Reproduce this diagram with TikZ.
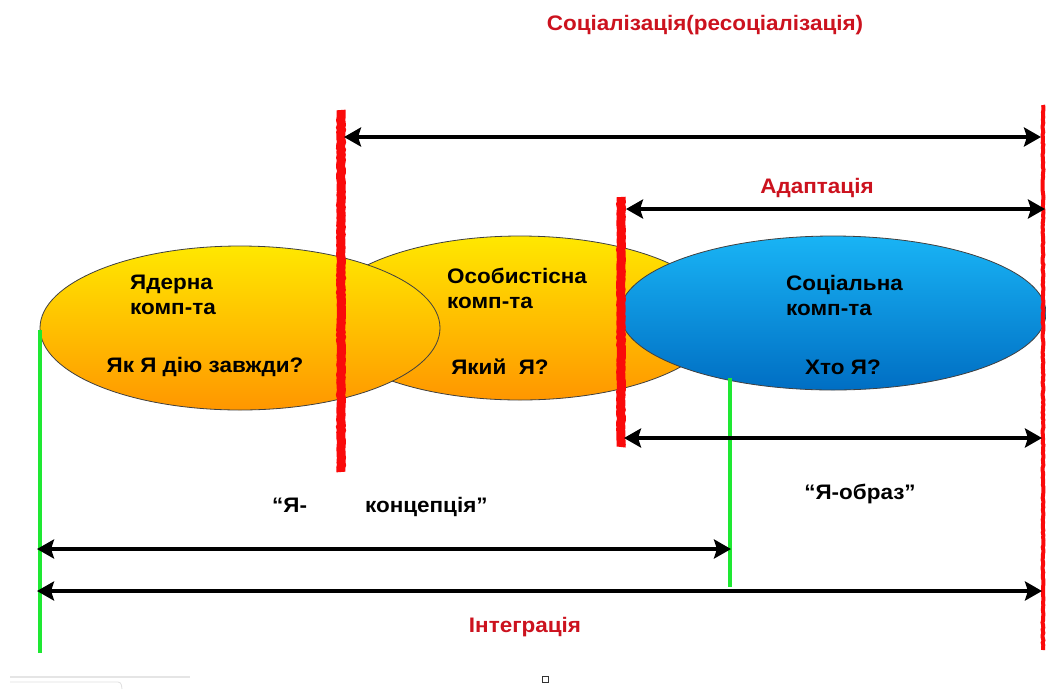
\documentclass[tikz,border=0pt]{standalone}
\usepackage{fontspec}
\setmainfont{Liberation Sans}[FakeStretch=1.07]
\usetikzlibrary{arrows.meta,decorations.pathmorphing}
\definecolor{txtred}{RGB}{204,18,30}
\definecolor{chalk}{RGB}{250,10,10}
\definecolor{lgreen}{RGB}{30,232,50}
\definecolor{yel}{RGB}{255,232,0}
\definecolor{org}{RGB}{255,150,0}
\definecolor{bluetop}{RGB}{25,180,245}
\definecolor{bluebot}{RGB}{0,110,195}
\tikzset{
  lbl/.style={font=\bfseries\fontsize{21}{25}\selectfont, text=black, inner sep=0pt},
  redlbl/.style={lbl, text=txtred},
  dblarrow/.style={line width=3.8pt, {Stealth[length=17pt,width=19pt,inset=3pt]}-{Stealth[length=17pt,width=19pt,inset=3pt]}},
  chalkline/.style={draw=chalk, line cap=butt, decorate, decoration={random steps, segment length=2.5pt, amplitude=0.5pt}},
  greenline/.style={draw=lgreen, line width=3.6pt},
  ellout/.style={draw=black!75, line width=0.8pt}
}
\begin{document}
\begin{tikzpicture}[x=1pt,y=-1pt]
\useasboundingbox[fill=white] (0,0) rectangle (1046,689);

% ellipses
\shade[top color=yel, bottom color=org, ellout] (520,318) ellipse [x radius=200pt, y radius=82pt];
\shade[top color=yel, bottom color=org, ellout] (240,328) ellipse [x radius=200pt, y radius=82pt];
\shade[top color=bluetop, bottom color=bluebot, ellout] (833,313) ellipse [x radius=213pt, y radius=77pt];

% coordinates
\coordinate (rA1) at (341,110); \coordinate (rA2) at (341,472);
\coordinate (rB1) at (621,197); \coordinate (rB2) at (621,447);
\coordinate (rC1) at (1043,105); \coordinate (rC2) at (1043,650);
\coordinate (g1a) at (40,330); \coordinate (g1b) at (40,653);
\coordinate (g2a) at (730,378); \coordinate (g2b) at (730,587);

\coordinate (t1) at (344,137); \coordinate (t2) at (1041,137);
\coordinate (a1) at (626,209); \coordinate (a2) at (1045,209);
\coordinate (o1) at (624,438); \coordinate (o2) at (1042,438);
\coordinate (k1) at (37,549); \coordinate (k2) at (731,549);
\coordinate (i1) at (37,591); \coordinate (i2) at (1042,591);

% green lines
\draw[greenline] (g1a) -- (g1b);
\draw[greenline] (g2a) -- (g2b);

% red chalk lines
\draw[chalkline, line width=9pt] (rA1) -- (rA2);
\draw[chalkline, line width=9pt] (rB1) -- (rB2);
\draw[chalkline, line width=4pt] (rC1) -- (rC2);

% arrows
\draw[dblarrow] (t1) -- (t2);
\draw[dblarrow] (a1) -- (a2);
\draw[dblarrow] (o1) -- (o2);
\draw[dblarrow] (k1) -- (k2);
\draw[dblarrow] (i1) -- (i2);

% labels
\node[redlbl] (title) at (705,25) {Соціалізація(ресоціалізація)};
\node[redlbl] (adapt) at (817,188) {Адаптація};
\node[redlbl] (integr) at (525,627) {Інтеграція};

\node[lbl, anchor=west, align=left] (yad) at (130,295) {Ядерна\\комп-та};
\node[lbl] (yakdiyu) at (205,367) {Як Я дію завжди?};
\node[lbl, anchor=west, align=left] (osob) at (447,288) {Особистісна\\комп-та};
\node[lbl] (yakyi) at (500,367) {Який\ \ Я?};
\node[lbl, anchor=west, align=left] (soc) at (786,295) {Соціальна\\комп-та};
\node[lbl] (khto) at (843,367) {Хто Я?};

\node[lbl, anchor=west] (konc) at (272,507) {“Я-\hspace{58pt}концепція”};
\node[lbl] (obraz) at (860,494) {“Я-образ”};

% small artefacts at the bottom
\node[draw=black!80, line width=1pt, minimum size=6pt, inner sep=0pt] (sq) at (545,679) {};
\coordinate (f1) at (10,677); \coordinate (f2) at (190,677);
\draw[black!10, line width=1.2pt] (f1) -- (f2);
\coordinate (f3) at (10,682); \coordinate (f4) at (122,689);
\draw[black!12, line width=0.8pt, rounded corners=3pt] (f3) -- (121,682) -- (f4);
\end{tikzpicture}
\end{document}
